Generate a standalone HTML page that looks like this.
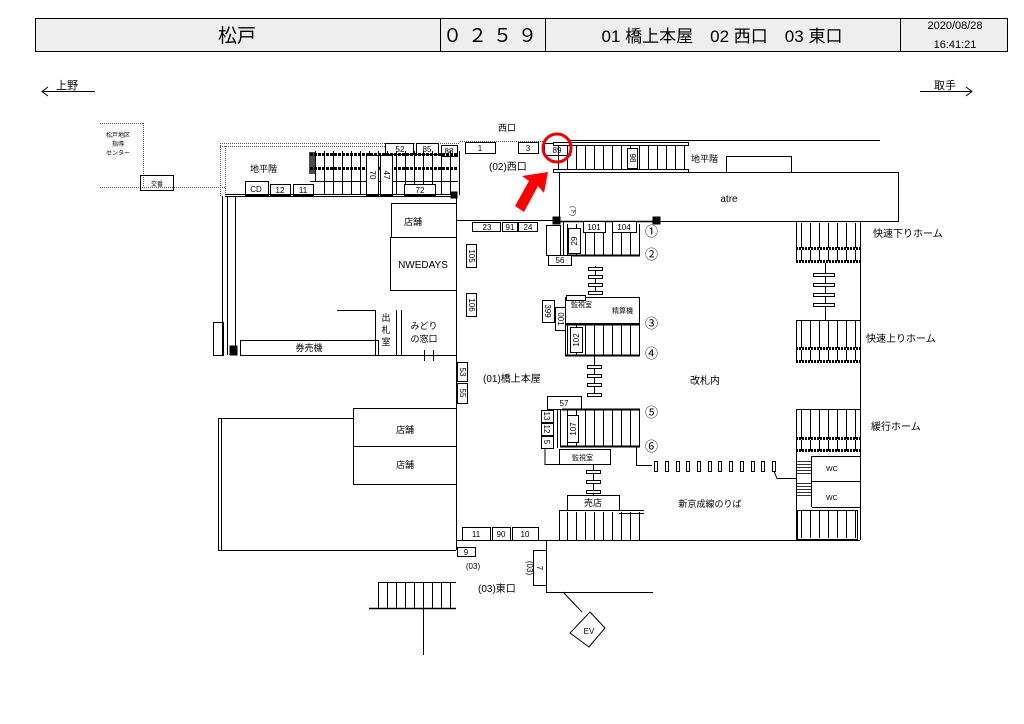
<!DOCTYPE html>
<html><head><meta charset="utf-8"><style>
html,body{margin:0;padding:0;background:#fff}
svg{display:block}
text{font-family:"Liberation Sans","Noto Sans CJK JP",sans-serif;fill:#000}
</style></head><body>
<svg width="1024" height="724" viewBox="0 0 1024 724" xmlns="http://www.w3.org/2000/svg">
<defs>
<pattern id="st" width="9" height="10" patternUnits="userSpaceOnUse"><line x1="0.5" y1="0" x2="0.5" y2="10" stroke="#000" stroke-width="1"/></pattern>
</defs>
<g fill="none" stroke="#000" stroke-width="1">
<rect x="35.5" y="18.5" width="972" height="33" fill="#eee"/>
<line x1="440.5" y1="18" x2="440.5" y2="52"/><line x1="545.5" y1="18" x2="545.5" y2="52"/><line x1="900.5" y1="18" x2="900.5" y2="52"/>
<line x1="42" y1="91.5" x2="95" y2="91.5"/><polyline points="48,87 42,91.5 48,96"/>
<line x1="920" y1="91.5" x2="972" y2="91.5"/><polyline points="966,87 972,91.5 966,96"/>
<g stroke-dasharray="1,1" stroke="#555">
<line x1="100" y1="123.5" x2="143" y2="123.5"/><line x1="143.5" y1="123" x2="143.5" y2="187"/>
<line x1="100" y1="187.5" x2="225" y2="187.5"/>
<line x1="220" y1="143.5" x2="460" y2="143.5"/><line x1="220" y1="146.5" x2="385" y2="146.5"/>
<line x1="220.5" y1="143" x2="220.5" y2="196"/><line x1="225.5" y1="146" x2="225.5" y2="196"/>
<line x1="460" y1="141.5" x2="545" y2="141.5"/>
</g>
<rect x="140.5" y="175.5" width="33" height="15"/>
<line x1="570" y1="140.5" x2="880" y2="140.5"/>
<rect x="385.5" y="143.5" width="28" height="11"/><rect x="416.5" y="143.5" width="22" height="11"/><rect x="441.5" y="145.5" width="16" height="11"/>
<rect x="465.5" y="142.5" width="30" height="11"/><rect x="518.5" y="142.5" width="20" height="11"/><rect x="544.5" y="143.5" width="26" height="12"/>
<rect x="310" y="151" width="150" height="30" fill="url(#st)" stroke="none"/>
<rect x="318" y="181" width="142" height="14" fill="url(#st)" stroke="none"/>
<line x1="310" y1="154.5" x2="458" y2="154.5" stroke-width="3" stroke-dasharray="3,1"/>
<line x1="310" y1="168.5" x2="458" y2="168.5" stroke-width="3" stroke-dasharray="3,1"/>
<rect x="309" y="152" width="6" height="22" fill="#000" stroke="none" opacity="0.7"/>
<line x1="310" y1="181.5" x2="458" y2="181.5"/>
<rect x="366.5" y="155.5" width="12" height="40" fill="#fff"/><rect x="380.5" y="155.5" width="12" height="40" fill="#fff"/>
<rect x="245.5" y="181.5" width="23" height="14" fill="#fff"/><rect x="270.5" y="184.5" width="20" height="11" fill="#fff"/><rect x="293.5" y="184.5" width="20" height="11" fill="#fff"/>
<rect x="404.5" y="184.5" width="31" height="11" fill="#fff"/>
<line x1="225" y1="196.5" x2="456" y2="196.5"/><line x1="225" y1="194.5" x2="456" y2="194.5"/>
<rect x="451" y="192" width="6" height="6" fill="#000"/>
<line x1="222.5" y1="196" x2="222.5" y2="355"/><line x1="227.5" y1="196" x2="227.5" y2="355"/><line x1="235.5" y1="196" x2="235.5" y2="355"/>
<rect x="213.5" y="322.5" width="10" height="33"/><rect x="230" y="346" width="7" height="9" fill="#000"/>
<rect x="240.5" y="340.5" width="138" height="15"/>
<line x1="337" y1="310.5" x2="375" y2="310.5"/><line x1="375.5" y1="310" x2="375.5" y2="355"/>
<line x1="378" y1="355.5" x2="456" y2="355.5"/>
<line x1="396.5" y1="310" x2="396.5" y2="355"/><line x1="401.5" y1="310" x2="401.5" y2="355"/>
<line x1="424.5" y1="350" x2="424.5" y2="361"/><line x1="433.5" y1="350" x2="433.5" y2="361"/>
<rect x="391.5" y="203.5" width="65" height="34"/><rect x="390.5" y="237.5" width="66" height="53"/>
<line x1="456.5" y1="196" x2="456.5" y2="550"/>
<line x1="456" y1="220.5" x2="555" y2="220.5"/>
<rect x="472.5" y="222.5" width="28" height="9"/><rect x="502.5" y="222.5" width="15" height="9"/><rect x="518.5" y="222.5" width="19" height="9"/>
<rect x="466.5" y="244.5" width="10" height="23"/><rect x="466.5" y="293.5" width="10" height="23"/>
<rect x="457.5" y="362.5" width="10" height="19"/><rect x="457.5" y="383.5" width="10" height="20"/>
<rect x="353.5" y="408.5" width="103" height="38"/><rect x="353.5" y="446.5" width="103" height="38"/>
<polyline points="353,418.5 218.5,418.5 218.5,550.5 456,550.5"/><line x1="221.5" y1="418" x2="221.5" y2="550"/>
<line x1="456" y1="540.5" x2="860" y2="540.5"/>
<rect x="462.5" y="527.5" width="28" height="13"/><rect x="492.5" y="527.5" width="18" height="13"/><rect x="512.5" y="527.5" width="26" height="13"/>
<rect x="457.5" y="547.5" width="18" height="9"/>
<line x1="546.5" y1="540" x2="546.5" y2="592"/><line x1="546" y1="592.5" x2="653" y2="592.5"/>
<rect x="533.5" y="550.5" width="13" height="35"/>
<line x1="563" y1="592" x2="582" y2="612"/>
<polygon points="590,612 605,628 589,647 570,633"/>
<rect x="378" y="582" width="78" height="26" fill="url(#st)" stroke="none"/>
<polyline points="378.5,608 378.5,582.5 456,582.5"/>
<line x1="369" y1="608.5" x2="456" y2="608.5" stroke-width="1.5"/>
<line x1="423.5" y1="608" x2="423.5" y2="655"/>
<rect x="556" y="145" width="132" height="26" fill="url(#st)" stroke="none"/>
<rect x="553.5" y="142.5" width="135" height="3" fill="#fff"/><rect x="553.5" y="169.5" width="135" height="3" fill="#fff"/>
<rect x="627.5" y="148.5" width="10" height="20" fill="#fff"/>
<rect x="726.5" y="156.5" width="65" height="16"/>
<rect x="559.5" y="172.5" width="339" height="49" fill="#fff"/>
<line x1="559.5" y1="172" x2="559.5" y2="222"/>
<line x1="555" y1="221.5" x2="660" y2="221.5" stroke-width="1.5"/>
<rect x="553" y="217" width="7" height="7" fill="#000"/><rect x="653" y="217" width="7" height="7" fill="#000"/>
<rect x="567" y="224" width="73" height="31" fill="url(#st)" stroke="none"/>
<line x1="567" y1="255.5" x2="640" y2="255.5" stroke-width="2"/>
<line x1="563.5" y1="222" x2="563.5" y2="256"/>
<rect x="583.5" y="221.5" width="22" height="11" fill="#fff"/><rect x="612.5" y="221.5" width="24" height="11" fill="#fff"/>
<rect x="568.5" y="228.5" width="12" height="25" fill="#fff"/>
<rect x="546.5" y="225.5" width="14" height="30"/><rect x="548.5" y="255.5" width="23" height="10" fill="#fff"/>
<line x1="595.5" y1="266" x2="595.5" y2="295"/>
<g fill="#fff"><rect x="588.5" y="267.5" width="14" height="3"/><rect x="588.5" y="275.5" width="14" height="3"/><rect x="588.5" y="283.5" width="14" height="3"/><rect x="588.5" y="291.5" width="14" height="3"/></g>
<rect x="565.5" y="297.5" width="74" height="26"/><rect x="566.5" y="295.5" width="19" height="5" fill="#fff"/>
<rect x="542.5" y="300.5" width="12" height="22"/><rect x="555.5" y="307.5" width="10" height="23"/>
<rect x="565" y="325" width="75" height="30" fill="url(#st)" stroke="none"/>
<line x1="565" y1="324.5" x2="640" y2="324.5" stroke-width="2"/><line x1="565" y1="355.5" x2="640" y2="355.5" stroke-width="2"/>
<line x1="565.5" y1="324" x2="565.5" y2="356"/>
<rect x="570.5" y="327.5" width="12" height="25" fill="#fff"/>
<line x1="594.5" y1="356" x2="594.5" y2="396"/>
<g fill="#fff"><rect x="587.5" y="365.5" width="14" height="3"/><rect x="587.5" y="374.5" width="14" height="3"/><rect x="587.5" y="383.5" width="14" height="3"/><rect x="587.5" y="393.5" width="14" height="3"/></g>
<rect x="547.5" y="396.5" width="34" height="13" fill="#fff"/>
<rect x="562" y="410" width="78" height="36" fill="url(#st)" stroke="none"/>
<line x1="562" y1="409.5" x2="640" y2="409.5" stroke-width="2"/><line x1="560" y1="446.5" x2="640" y2="446.5" stroke-width="2"/>
<line x1="560.5" y1="409" x2="560.5" y2="447"/><line x1="557.5" y1="409" x2="557.5" y2="448"/>
<rect x="567.5" y="415.5" width="11" height="27" fill="#fff"/>
<rect x="541.5" y="410.5" width="12" height="12"/><rect x="541.5" y="423.5" width="12" height="12"/><rect x="541.5" y="436.5" width="12" height="12"/>
<polyline points="545,448 545,464.5 559,464.5"/>
<rect x="559.5" y="449.5" width="51" height="15"/>
<polyline points="636.5,446 636.5,465.5 652,465.5"/>
<g fill="#fff"><rect x="654.5" y="461.5" width="3" height="10"/><rect x="665.5" y="461.5" width="3" height="10"/><rect x="676.5" y="461.5" width="3" height="10"/><rect x="686.5" y="461.5" width="3" height="10"/><rect x="697.5" y="461.5" width="3" height="10"/><rect x="708.5" y="461.5" width="3" height="10"/><rect x="718.5" y="461.5" width="3" height="10"/><rect x="729.5" y="461.5" width="3" height="10"/><rect x="740.5" y="461.5" width="3" height="10"/><rect x="751.5" y="461.5" width="3" height="10"/><rect x="761.5" y="461.5" width="3" height="10"/><rect x="772.5" y="461.5" width="3" height="10"/></g>
<polyline points="774,471 777,478.5 796,478.5"/>
<line x1="593.5" y1="465" x2="593.5" y2="495"/>
<g fill="#fff"><rect x="586.5" y="470.5" width="14" height="3"/><rect x="586.5" y="480.5" width="14" height="3"/><rect x="586.5" y="490.5" width="14" height="3"/></g>
<rect x="567.5" y="495.5" width="52" height="15" fill="#fff"/>
<rect x="559" y="512" width="85" height="28" fill="url(#st)" stroke="none"/>
<polyline points="559.5,540 559.5,510.5 644,510.5"/><line x1="619" y1="513.5" x2="644" y2="513.5"/>
<line x1="860.5" y1="222" x2="860.5" y2="540"/>
<rect x="796" y="223" width="64" height="25" fill="url(#st)" stroke="none"/>
<line x1="796" y1="248.5" x2="860" y2="248.5" stroke-width="3" stroke-dasharray="2,1"/>
<rect x="796" y="250" width="64" height="11" fill="url(#st)" stroke="none"/>
<line x1="796" y1="261.5" x2="860" y2="261.5" stroke-width="3" stroke-dasharray="2,1"/>
<line x1="796.5" y1="222" x2="796.5" y2="262"/>
<line x1="825.5" y1="263" x2="825.5" y2="320"/>
<g fill="#fff"><rect x="813.5" y="273.5" width="21" height="3"/><rect x="813.5" y="283.5" width="21" height="3"/><rect x="813.5" y="293.5" width="21" height="3"/><rect x="813.5" y="303.5" width="21" height="3"/></g>
<rect x="796" y="320" width="64" height="28" fill="url(#st)" stroke="none"/>
<line x1="796" y1="320.5" x2="860" y2="320.5"/>
<line x1="796" y1="348.5" x2="860" y2="348.5" stroke-width="3" stroke-dasharray="2,1"/>
<rect x="796" y="350" width="64" height="11" fill="url(#st)" stroke="none"/>
<line x1="796" y1="361.5" x2="860" y2="361.5" stroke-width="3" stroke-dasharray="2,1"/>
<line x1="796.5" y1="320" x2="796.5" y2="362"/>
<rect x="796" y="409" width="64" height="30" fill="url(#st)" stroke="none"/>
<line x1="796" y1="409.5" x2="860" y2="409.5"/>
<line x1="796" y1="438.5" x2="860" y2="438.5" stroke-width="3" stroke-dasharray="2,1"/>
<rect x="796" y="440" width="64" height="11" fill="url(#st)" stroke="none"/>
<line x1="796" y1="450.5" x2="860" y2="450.5" stroke-width="3" stroke-dasharray="2,1"/>
<line x1="796.5" y1="409" x2="796.5" y2="451"/>
<line x1="796.5" y1="451" x2="796.5" y2="540"/>
<line x1="812" y1="456.5" x2="860" y2="456.5"/><line x1="812" y1="481.5" x2="860" y2="481.5"/><line x1="812" y1="507.5" x2="860" y2="507.5"/>
<line x1="811.5" y1="456" x2="811.5" y2="507"/>
<g stroke-width="0.8"><line x1="797" y1="461.5" x2="811" y2="461.5"/><line x1="797" y1="464.5" x2="811" y2="464.5"/><line x1="797" y1="467.5" x2="811" y2="467.5"/><line x1="797" y1="470.5" x2="811" y2="470.5"/><line x1="797" y1="473.5" x2="811" y2="473.5"/>
<line x1="797" y1="483.5" x2="811" y2="483.5"/><line x1="797" y1="486.5" x2="811" y2="486.5"/><line x1="797" y1="489.5" x2="811" y2="489.5"/><line x1="797" y1="492.5" x2="811" y2="492.5"/><line x1="797" y1="495.5" x2="811" y2="495.5"/></g>
<rect x="800" y="511" width="57" height="27" fill="url(#st)" stroke="none"/>
<rect x="797.5" y="510.5" width="60" height="29"/>
</g>
<circle cx="557" cy="148" r="14" fill="none" stroke="#e00" stroke-width="3"/>
<polygon points="548,172 544,193 538,186 524,212 515,206 529,181 522,176" fill="#f00"/>
<g font-size="19"><text x="237" y="42" text-anchor="middle">松戸</text><text x="493" y="42" text-anchor="middle" letter-spacing="6">０２５９</text><text x="722" y="42" text-anchor="middle" font-size="17">01 橋上本屋　02 西口　03 東口</text></g>
<text x="955" y="29" text-anchor="middle" font-size="11">2020/08/28</text>
<text x="955" y="48" text-anchor="middle" font-size="11">16:41:21</text>
<text x="56" y="89" font-size="11">上野</text><text x="934" y="89" font-size="11">取手</text>
<g font-size="6" text-anchor="middle"><text x="118" y="137">松戸地区</text><text x="118" y="146">指導</text><text x="118" y="155">センター</text><text x="157" y="186">交番</text></g>
<g font-size="8" text-anchor="middle">
<text x="400" y="152">52</text><text x="427" y="152">85</text><text x="449" y="154">88</text><text x="480" y="151">1</text><text x="528" y="151">3</text><text x="557" y="153">89</text>
<text x="256" y="192">CD</text><text x="280" y="193">12</text><text x="303" y="193">11</text><text x="420" y="193">72</text>
<text x="487" y="230">23</text><text x="510" y="230">91</text><text x="528" y="230">24</text>
<text x="594" y="230">101</text><text x="624" y="230">104</text><text x="560" y="263">56</text>
<text x="564" y="406">57</text><text x="476" y="537">11</text><text x="501" y="537">90</text><text x="525" y="537">10</text><text x="466" y="555">9</text>
<text x="473" y="569">(03)</text>
</g>
<g font-size="8" text-anchor="middle">
<text transform="translate(370,175) rotate(90)">70</text><text transform="translate(384,175) rotate(90)">47</text>
<text transform="translate(630,158) rotate(90)">98</text>
<text transform="translate(577,241) rotate(-90)">29</text>
<text transform="translate(469,256) rotate(90)">105</text><text transform="translate(469,305) rotate(90)">106</text>
<text transform="translate(545,311) rotate(90)">399</text><text transform="translate(558,319) rotate(90)">001</text>
<text transform="translate(579,340) rotate(-90)">102</text>
<text transform="translate(460,372) rotate(90)">53</text><text transform="translate(460,393) rotate(90)">55</text>
<text transform="translate(576,429) rotate(-90)">107</text>
<text transform="translate(544,416) rotate(90)">13</text><text transform="translate(544,429) rotate(90)">12</text><text transform="translate(544,442) rotate(90)">5</text>
<text transform="translate(537,568) rotate(90)">7</text><text transform="translate(527,568) rotate(90)">(03)</text>
<text transform="translate(571,211) rotate(90)" font-size="6">(下)</text>
</g>
<g font-size="9"><text x="250" y="172">地平階</text><text x="691" y="162">地平階</text><text x="498" y="131">西口</text></g>
<text x="489" y="170" font-size="10">(02)西口</text>
<text x="729" y="202" font-size="10" text-anchor="middle">atre</text>
<g font-size="9" text-anchor="middle"><text x="413" y="225">店舗</text><text x="309" y="351">券売機</text><text x="405" y="468">店舗</text><text x="405" y="433">店舗</text><text x="593" y="506">売店</text></g>
<text x="423" y="268" font-size="10" text-anchor="middle">NWEDAYS</text>
<g font-size="9" text-anchor="middle"><text x="386" y="321">出</text><text x="386" y="333">札</text><text x="386" y="345">室</text><text x="424" y="329">みどり</text><text x="424" y="342">の窓口</text></g>
<text x="483" y="382" font-size="10">(01)橋上本屋</text>
<text x="705" y="384" font-size="10" text-anchor="middle">改札内</text>
<text x="710" y="507" font-size="9" text-anchor="middle">新京成線のりば</text>
<text x="478" y="592" font-size="10">(03)東口</text>
<text x="589" y="634" font-size="8" text-anchor="middle">EV</text>
<g font-size="7"><text x="571" y="307">監視室</text><text x="612" y="313">精算機</text><text x="572" y="460">監視室</text><text x="826" y="471">WC</text><text x="826" y="500">WC</text></g>
<g font-size="13"><text x="645" y="236">①</text><text x="645" y="259">②</text><text x="645" y="328">③</text><text x="645" y="358">④</text><text x="645" y="417">⑤</text><text x="645" y="451">⑥</text></g>
<g font-size="10"><text x="873" y="237">快速下りホーム</text><text x="866" y="342">快速上りホーム</text><text x="871" y="430">緩行ホーム</text></g>
</svg>
</body></html>
